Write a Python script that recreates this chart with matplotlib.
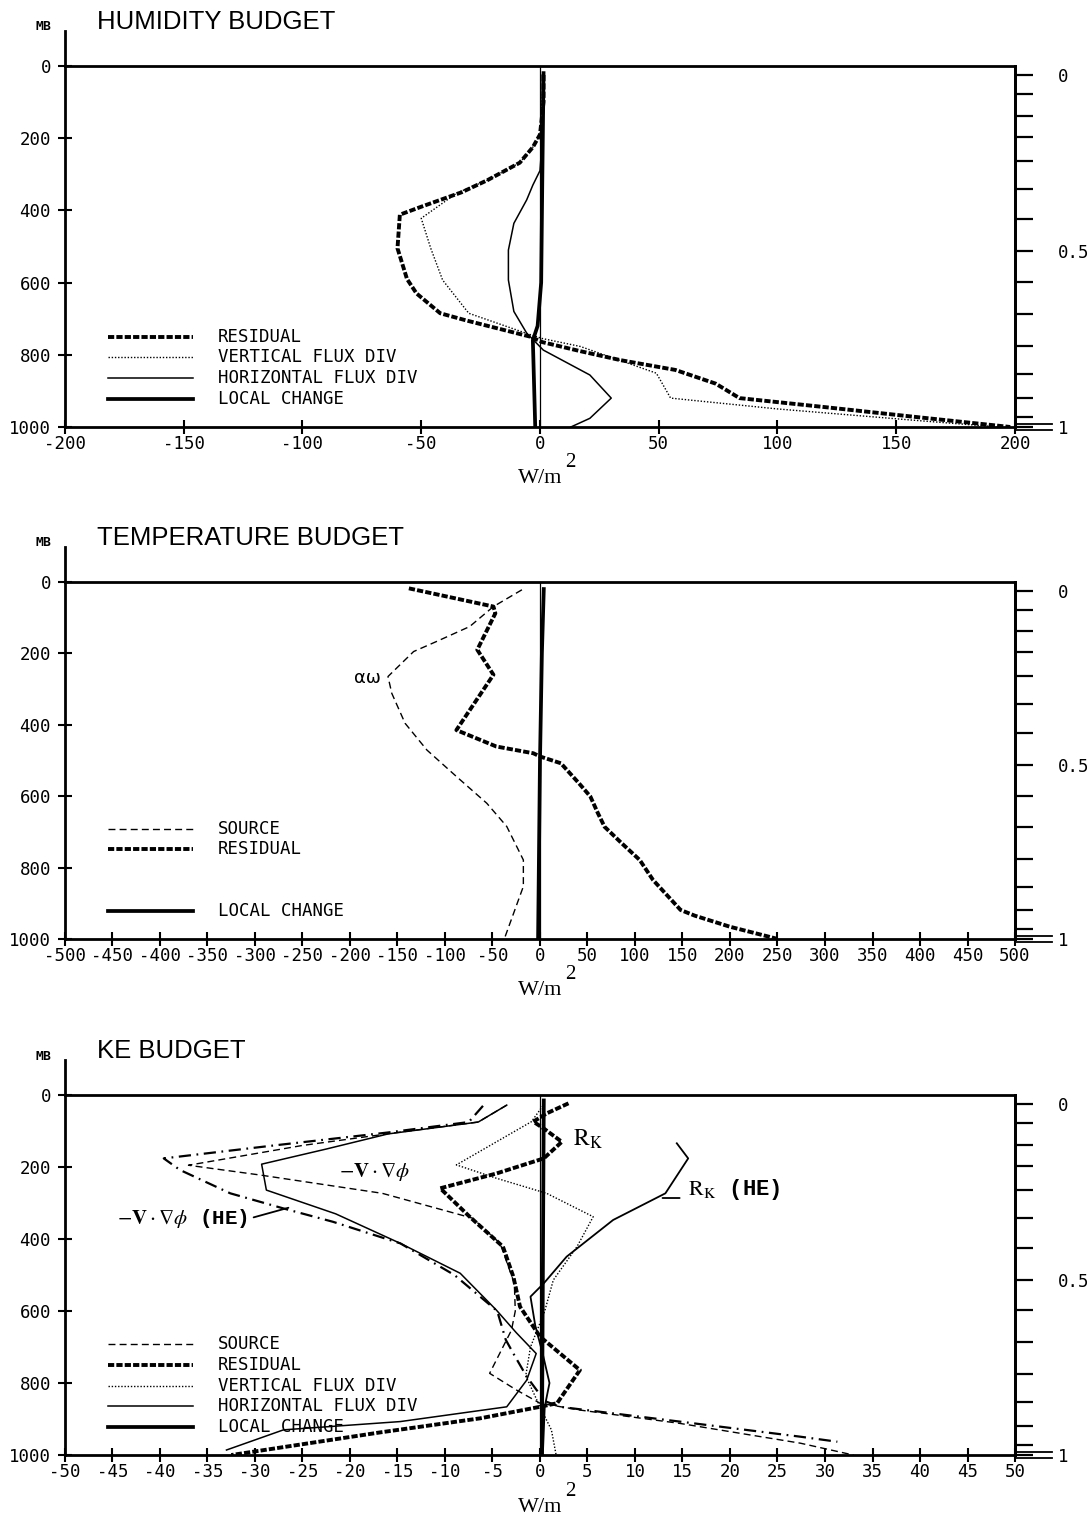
import matplotlib
matplotlib.use("Agg")
import matplotlib.pyplot as plt
import numpy as np

plt.rcParams["font.family"] = ["DejaVu Sans Mono", "DejaVu Sans"]
plt.rcParams["axes.unicode_minus"] = False
plt.rcParams["mathtext.fontset"] = "stix"

# pressure of the sigma = 0 surface (mb); sigma = 1 at 1000 mb
P_TOP = 25.0
SIGMA_LEVELS = [0, 0.054, 0.116, 0.176, 0.244, 0.324, 0.409, 0.5,
                0.588, 0.679, 0.77, 0.85, 0.918, 0.971, 1.0]
PRESSURE_TICKS = [0, 200, 400, 600, 800, 1000]

# humidity budget (W/m2) against pressure (mb)
hum_res_p = [25, 100, 190, 225, 268, 316, 350, 390, 412, 505, 590, 630, 685,
             705, 750, 765, 790, 815, 842, 880, 920, 945, 970, 1000]
hum_res = [1.5, 1.5, 0, -3, -8.5, -22, -33, -50, -59, -60, -56, -52, -42,
           -31, -4, 1, 17, 34, 57, 74, 84, 120, 155, 198]
hum_vert_p = [25, 190, 225, 268, 316, 352, 422, 505, 593, 685, 740, 755, 777,
              851, 920, 950, 980, 1000]
hum_vert = [1.5, 0, -3, -8.5, -22, -35, -50, -46, -41, -30, -6, 1, 17,
            49, 55, 100, 155, 193]
hum_horiz_p = [25, 200, 290, 330, 371, 436, 510, 593, 680, 740, 787, 856,
               920, 976, 1000]
hum_horiz = [1, 1, 0, -3, -5.6, -11, -13.3, -13.3, -11, -5.6, 1.4, 21,
             30, 21, 13]
hum_local_p = [20, 300, 600, 720, 760, 1000]
hum_local = [1.5, 1, 0.5, -1, -3, -2]

# temperature budget
tmp_src_p = [22, 69, 125, 167, 195, 265, 312, 396, 471, 545, 620, 685, 760,
             779, 853, 996]
tmp_src = [-19, -49, -74, -109, -133, -160, -156, -142, -119, -88, -56, -35,
           -21, -17.5, -17.5, -37]
tmp_res_p = [18, 69, 88, 190, 260, 415, 461, 480, 489, 508, 564, 601, 648,
             686, 732, 779, 835, 919, 935, 966, 1000]
tmp_res = [-138, -49, -47, -66, -49, -88, -46, -7, 0, 22, 41, 53, 61,
           68, 86, 105, 119, 148, 163, 200, 250]
tmp_local_p = [20, 200, 500, 1000]
tmp_local = [4, 2, 0, -2]

# kinetic energy budget
ke_src_p = [28, 75, 104, 140, 195, 222, 273, 342, 412, 523, 600, 653, 773,
            819, 856, 875, 912, 967, 1000]
ke_src = [-3.5, -6.5, -15, -25, -37, -29.5, -16.6, -7.1, -4.2, -2.7, -2.6,
          -3, -5.3, -2.5, 0, 4.2, 14.7, 27.4, 33]
ke_res_p = [23, 51, 74, 93, 130, 176, 218, 259, 338, 421, 505, 588, 671,
            764, 856, 866, 898, 937, 1000]
ke_res = [3, 0.7, -0.7, 0.4, 2.3, 0.4, -4.6, -10.5, -7.4, -3.9, -2.8, -2.1,
          0, 4.2, 1.8, 0, -6.3, -16.8, -32.5]
ke_vert_p = [30, 74, 194, 231, 273, 338, 421, 514, 600, 700, 780, 866, 930,
             1000]
ke_vert = [0.3, -0.9, -8.8, -4.6, 0.7, 5.6, 3.9, 1.4, 0.5, -1, -1.5, 0,
           1.2, 1.7]
ke_horiz_p = [28, 75, 108, 150, 192, 264, 330, 412, 495, 597, 660, 718, 792,
              866, 907, 930, 986]
ke_horiz = [-3.5, -6.5, -16, -22.5, -29.3, -28.8, -21.5, -14.7, -8.4, -4.6,
            -2.5, -0.4, -1.4, -3.5, -14.7, -27, -33]
ke_local_p = [15, 1000]
ke_local = [0.4, 0.2]
# hemispheric (HE) profiles
ke_src_he_p = [30, 75, 104, 140, 176, 208, 273, 315, 352, 412, 500, 600,
               680, 718, 782, 850, 866, 908, 949, 963]
ke_src_he = [-6, -7.5, -16, -28, -39.6, -37.9, -32.6, -27, -21.8, -14.7,
             -9, -4.5, -3.6, -2.8, -1.4, 0.5, 2.1, 15, 27.4, 31.3]
ke_rk_he_p = [134, 176, 273, 347, 449, 523, 560, 640, 720, 800, 866, 1000]
ke_rk_he = [14.4, 15.6, 13.2, 7.7, 2.8, 0.4, -1, -0.5, 0.3, 1, 0.5, 0.3]

STYLES = {
    "SOURCE": dict(color="k", lw=1.0, dashes=(5, 3)),
    "RESIDUAL": dict(color="k", lw=2.8, dashes=(1.6, 0.55)),
    "VERTICAL FLUX DIV": dict(color="k", lw=1.0, dashes=(1, 1.3)),
    "HORIZONTAL FLUX DIV": dict(color="k", lw=1.1),
    "LOCAL CHANGE": dict(color="k", lw=2.7),
}
KEY_ORDER = ["SOURCE", "RESIDUAL", "VERTICAL FLUX DIV",
             "HORIZONTAL FLUX DIV", "LOCAL CHANGE"]
HE_DASHDOT = dict(color="k", lw=1.6, dashes=(5.5, 2.5, 0.8, 2.5))


def p_to_sigma(p):
    return (np.asarray(p, dtype=float) - P_TOP) / (1000.0 - P_TOP)


def sigma_to_p(s):
    return P_TOP + np.asarray(s, dtype=float) * (1000.0 - P_TOP)


def budget_axes(fig, rect, title, xmax, xstep):
    ax = fig.add_axes(rect)
    ax.set_xlim(-xmax, xmax)
    ax.set_ylim(1000, 0)
    ax.set_xticks(np.arange(-xmax, xmax + xstep / 2, xstep))
    ax.set_xticklabels([f"{v:g}" for v in ax.get_xticks()])
    ax.set_yticks(PRESSURE_TICKS)
    ax.tick_params(axis="both", direction="inout", length=10, width=1.5,
                   labelsize=12.5)
    ax.tick_params(axis="x", pad=1)
    ax.tick_params(axis="y", pad=5)
    for spine in ax.spines.values():
        spine.set_linewidth(2)
    ax.axvline(0, color="k", lw=0.9)

    # left axis runs on up to the MB label
    ax.plot([0, 0], [1, 1.097], transform=ax.transAxes, color="k", lw=2,
            clip_on=False)
    ax.annotate("MB", xy=(0, 1), xycoords="axes fraction", xytext=(-21, 39),
                textcoords="offset pixels", ha="center", va="center",
                fontsize=9.5, weight="bold")
    ax.annotate(title, xy=(0, 1), xycoords="axes fraction", xytext=(32, 44),
                textcoords="offset pixels", ha="left", va="center",
                fontsize=18.5, family="Liberation Sans")

    ax.annotate("W/m", xy=(0.5, 0), xycoords="axes fraction",
                xytext=(0, -52), textcoords="offset pixels", ha="center",
                va="center", fontsize=16, family="Liberation Serif")
    ax.annotate("2", xy=(0.5, 0), xycoords="axes fraction",
                xytext=(30, -36), textcoords="offset pixels", ha="center",
                va="center", fontsize=15, family="Liberation Serif")

    # sigma scale on the right
    sec = ax.secondary_yaxis("right", functions=(p_to_sigma, sigma_to_p))
    labels = {0: "0", 0.5: "0.5", 1.0: "1"}
    sec.set_yticks(SIGMA_LEVELS,
                   labels=[labels.get(s, "") for s in SIGMA_LEVELS])
    sec.tick_params(direction="out", length=13, width=1.6, pad=18,
                    labelsize=12.5)
    sec.spines["right"].set_linewidth(2)
    for dp in (-8, 8):
        ax.plot([1, 1.039], [1000 + dp, 1000 + dp],
                transform=ax.get_yaxis_transform(), color="k", lw=1.3,
                clip_on=False)
    return ax


def draw_key(ax, names):
    for name in names:
        y = 0.308 - KEY_ORDER.index(name) * 0.0575
        ax.plot([0.045, 0.135], [y, y], transform=ax.transAxes,
                **STYLES[name])
        ax.text(0.161, y, name, transform=ax.transAxes, ha="left",
                va="center", fontsize=12.5)


fig = plt.figure(figsize=(10.9, 15.19), dpi=100)

# humidity
ax1 = budget_axes(fig, [0.0596, 0.7189, 0.8716, 0.2377], "HUMIDITY BUDGET",
                  200, 50)
ax1.plot(hum_vert, hum_vert_p, **STYLES["VERTICAL FLUX DIV"])
ax1.plot(hum_horiz, hum_horiz_p, **STYLES["HORIZONTAL FLUX DIV"])
ax1.plot(hum_local, hum_local_p, **STYLES["LOCAL CHANGE"])
ax1.plot(hum_res, hum_res_p, **STYLES["RESIDUAL"])
draw_key(ax1, ["RESIDUAL", "VERTICAL FLUX DIV", "HORIZONTAL FLUX DIV",
               "LOCAL CHANGE"])

# temperature
ax2 = budget_axes(fig, [0.0596, 0.3819, 0.8716, 0.2350],
                  "TEMPERATURE BUDGET", 500, 50)
ax2.plot(tmp_src, tmp_src_p, **STYLES["SOURCE"])
ax2.plot(tmp_local, tmp_local_p, **STYLES["LOCAL CHANGE"])
ax2.plot(tmp_res, tmp_res_p, **STYLES["RESIDUAL"])
ax2.text(-168, 270, "αω", ha="right", va="center", fontsize=13,
         family="DejaVu Sans")
draw_key(ax2, ["SOURCE", "RESIDUAL", "LOCAL CHANGE"])

# kinetic energy
ax3 = budget_axes(fig, [0.0596, 0.0421, 0.8716, 0.2370], "KE BUDGET", 50, 5)
ax3.plot(ke_src, ke_src_p, **STYLES["SOURCE"])
ax3.plot(ke_vert, ke_vert_p, **STYLES["VERTICAL FLUX DIV"])
ax3.plot(ke_horiz, ke_horiz_p, **STYLES["HORIZONTAL FLUX DIV"])
ax3.plot(ke_local, ke_local_p, **STYLES["LOCAL CHANGE"])
ax3.plot(ke_res, ke_res_p, **STYLES["RESIDUAL"])
ax3.plot(ke_src_he, ke_src_he_p, **HE_DASHDOT)
ax3.plot(ke_rk_he, ke_rk_he_p, color="k", lw=1.3)
draw_key(ax3, KEY_ORDER)

ax3.text(-17.4, 214, r"$-\mathbf{V}\cdot\nabla\phi$", ha="center",
         va="center", fontsize=15)
ax3.annotate(r"$-\mathbf{V}\cdot\nabla\phi$ (HE)", xy=(-26.2, 311),
             xytext=(-44.5, 344), ha="left", va="center", fontsize=15,
             family="Liberation Mono", weight="bold",
             arrowprops=dict(arrowstyle="-", lw=1.3, relpos=(1, 0.5)))
ax3.text(3.5, 122, r"$\mathrm{R_K}$", ha="left", va="center", fontsize=17)
ax3.text(15.6, 262, r"$\mathrm{R_K}$ (HE)", ha="left", va="center",
         fontsize=16, family="Liberation Mono", weight="bold")
ax3.annotate("", xy=(12.9, 286), xytext=(14.7, 286),
             arrowprops=dict(arrowstyle="-", lw=1.3, shrinkA=0, shrinkB=0))

fig.savefig("out.png", dpi=100)
